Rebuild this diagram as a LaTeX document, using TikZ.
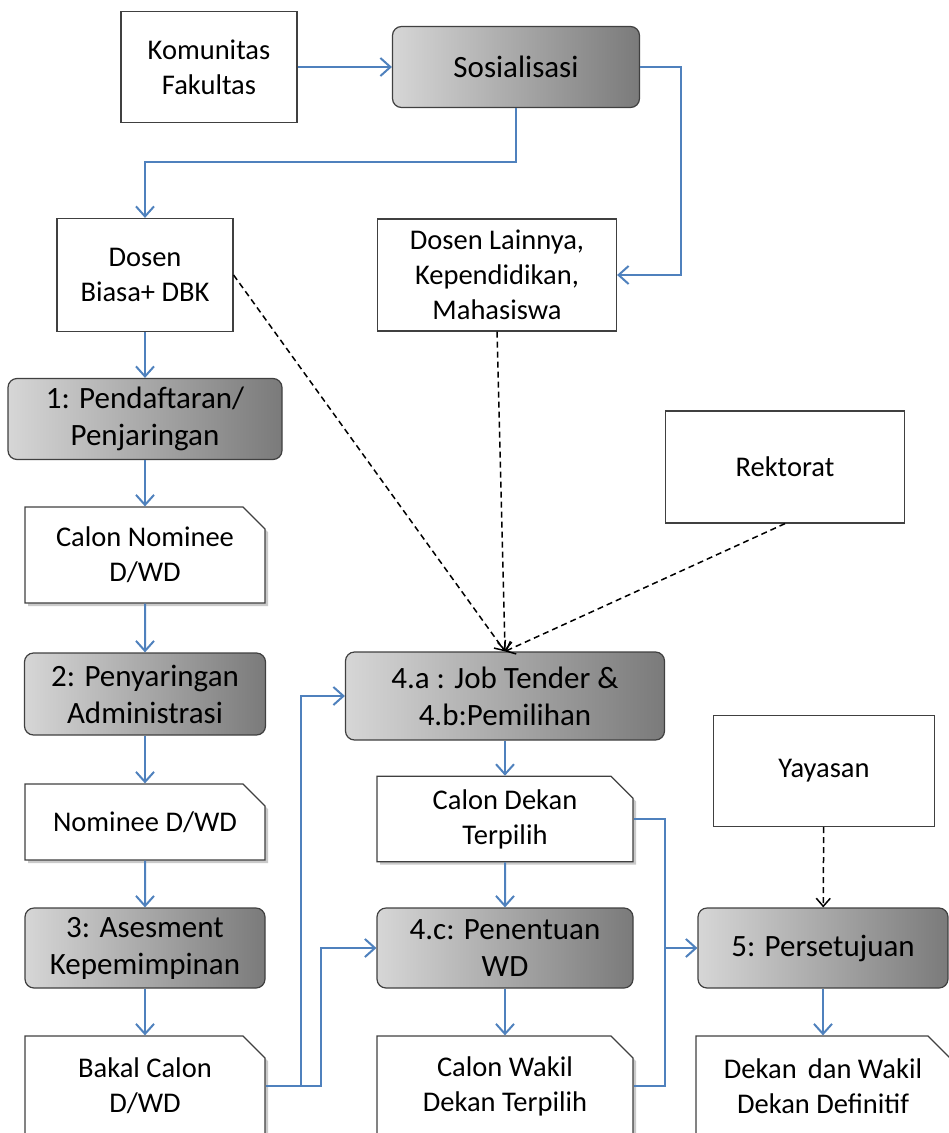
\documentclass[tikz,border=0pt]{standalone}
\usepackage{fontspec}
\setmainfont{Carlito}
\usepackage{tikz}
\usetikzlibrary{shapes.misc,arrows.meta,shadows,calc}
\definecolor{flowcolor}{RGB}{79, 129, 189}
\definecolor{framecolor}{RGB}{64, 64, 64}

\begin{document}
\begin{tikzpicture}[
    x=1pt, y=-1pt,
    every node/.style={font=\fontsize{28.5}{35}\selectfont, align=center, inner sep=2pt},
    bnode/.style={rectangle, draw=framecolor, line width=1.2pt, fill=white},
    pnode/.style={rectangle, rounded corners=9pt, draw=framecolor, line width=1.2pt,
        left color=black!16, right color=black!52, font=\fontsize{31}{37}\selectfont},
    dnode/.style={chamfered rectangle, chamfered rectangle corners=north east,
        chamfered rectangle xsep=11pt, chamfered rectangle ysep=11pt,
        draw=framecolor, line width=1.2pt, fill=white,
        drop shadow={shadow xshift=3pt, shadow yshift=-3pt, opacity=0.35, fill=black!60}},
    edge/.style={-{Straight Barb[length=10pt, width=18pt]}, flowcolor, line width=2pt},
    bline/.style={flowcolor, line width=2pt},
    dedge/.style={-{Straight Barb[length=8pt, width=14pt]}, black, line width=1.5pt,
        dash pattern=on 6pt off 4pt}
]
    \useasboundingbox (0,0) rectangle (949,1133);

    % Source nodes
    \node[bnode, minimum width=176, minimum height=111] (kom) at (209, 67) {Komunitas\\Fakultas};
    \node[bnode, minimum width=176, minimum height=113] (dbiasa) at (145, 275) {Dosen\\Biasa+ DBK};
    \node[bnode, minimum width=239, minimum height=112] (dlain) at (497, 275) {Dosen Lainnya,\\Kependidikan,\\Mahasiswa};
    \node[bnode, minimum width=239, minimum height=112] (rekt) at (785, 467) {Rektorat};
    \node[bnode, minimum width=221, minimum height=111] (yay) at (824, 771) {Yayasan};

    % Process nodes
    \node[pnode, minimum width=247, minimum height=81] (sos) at (516, 67) {Sosialisasi};
    \node[pnode, minimum width=274, minimum height=81] (p1) at (145, 419) {1: Pendaftaran/\\Penjaringan};
    \node[pnode, minimum width=241, minimum height=82] (p2) at (145, 694) {2: Penyaringan\\Administrasi};
    \node[pnode, minimum width=240, minimum height=80] (p3) at (145, 948) {3: Asesment\\Kepemimpinan};
    \node[pnode, minimum width=319, minimum height=88] (p4a) at (505, 696) {4.a : Job Tender \&\\4.b:Pemilihan};
    \node[pnode, minimum width=256, minimum height=80] (p4c) at (505, 948) {4.c: Penentuan\\WD};
    \node[pnode, minimum width=250, minimum height=80] (p5) at (823, 948) {5: Persetujuan};

    % Document nodes
    \node[dnode, minimum width=240, minimum height=96] (cnom) at (145, 555) {Calon Nominee\\D/WD};
    \node[dnode, minimum width=240, minimum height=76] (nom) at (145, 822) {Nominee D/WD};
    \node[dnode, minimum width=240, minimum height=100] (bakal) at (145, 1086) {Bakal Calon\\D/WD};
    \node[dnode, minimum width=256, minimum height=78] (cdekan) at (505, 819) {Calon Dekan\\Terpilih};
    \node[dnode, minimum width=256, minimum height=100] (cwakil) at (505, 1086) {Calon Wakil\\Dekan Terpilih};
    \node[dnode, minimum width=254, minimum height=100] (ddef) at (823, 1086) {Dekan\, dan Wakil\\Dekan Definitif};

    % Junction
    \coordinate (jn) at (665, 948);

    % Flow edges
    \draw[edge] (kom) -- (sos);
    \draw[edge] (sos.south) -- ++(0, 54) -| (dbiasa.north);
    \draw[edge] (sos.east) -- ++(41, 0) |- (dlain.east);
    \foreach \a/\b in {dbiasa/p1, p1/cnom, cnom/p2, p2/nom, nom/p3, p3/bakal,
                       p4a/cdekan, cdekan/p4c, p4c/cwakil, p5/ddef} {
        \draw[edge] (\a) -- (\b);
    }
    \draw[edge] (bakal.east) -- ++(35, 0) |- (p4a.west);
    \draw[edge] (bakal.east) -- ++(55, 0) |- (p4c.west);
    \draw[bline] (cdekan.east) -| (jn) |- (cwakil.east);
    \draw[edge] (jn) -- (p5);

    % Dashed influence edges
    \draw[dedge] (dbiasa.east) -- (p4a.north);
    \draw[dedge] (dlain.south) -- (p4a.north);
    \draw[dedge] (rekt.south) -- (p4a.north);
    \draw[dedge] (yay) -- (p5);
\end{tikzpicture}
\end{document}
